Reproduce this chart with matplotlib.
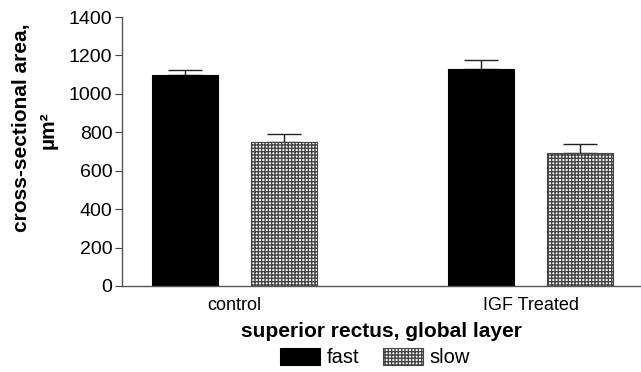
import numpy as np
import matplotlib.pyplot as plt

plt.rcParams["font.family"] = ["Liberation Sans", "DejaVu Sans"]

groups = ["control", "IGF Treated"]
fast_mean = [1100, 1130]
fast_err = [22, 45]
slow_mean = [750, 692]
slow_err = [40, 45]
yticks = [0, 200, 400, 600, 800, 1000, 1200, 1400]

fig = plt.figure(figsize=(6.41, 3.72), dpi=100)
ax = fig.add_axes([122 / 641, 86 / 372, 519 / 641, 269 / 372])

x = np.arange(len(groups))
off = 0.1664
w = 0.223

ax.bar(x - off, fast_mean, w, color="black", edgecolor="black", linewidth=0.8, label="fast", zorder=2)
ax.bar(x + off, slow_mean, w, color="white", edgecolor="#444444", hatch="+++++",
       linewidth=0.8, label="slow", zorder=2)

for xs, m, e in [(x - off, fast_mean, fast_err), (x + off, slow_mean, slow_err)]:
    ax.errorbar(xs, m, yerr=[np.zeros(len(e)), e], fmt="none", ecolor="#222222",
                elinewidth=1.0, capsize=12, capthick=1.0, zorder=1)

ax.set_xlim(-0.380, 1.373)
ax.set_ylim(0, 1400)
ax.set_yticks(yticks)
ax.set_xticks(x)
ax.set_xticklabels(groups)
ax.tick_params(axis="y", labelsize=14, length=5, width=0.8, color="#444444", pad=2)
ax.tick_params(axis="x", labelsize=13, length=0, pad=8)

for s in ["top", "right"]:
    ax.spines[s].set_visible(False)
for s in ["left", "bottom"]:
    ax.spines[s].set_color("#555555")
    ax.spines[s].set_linewidth(1.0)

ax.set_xlabel("superior rectus, global layer", fontsize=15, fontweight="bold", labelpad=6)

fig.text(22 / 641, 1 - 128 / 372, "cross-sectional area,", rotation=90, ha="center", va="center",
         fontsize=15, fontweight="bold")
fig.text(48 / 641, 1 - 130 / 372, "\u00b5m\u00b2", rotation=90, ha="center", va="center",
         fontsize=15, fontweight="bold")

fig.legend(loc="lower center", bbox_to_anchor=(0.585, -0.02), ncol=2, frameon=False,
           fontsize=14.5, handlelength=2.0, handleheight=0.9, handletextpad=0.3,
           columnspacing=1.2, borderaxespad=0.2)

fig.savefig("out.png", dpi=100)
